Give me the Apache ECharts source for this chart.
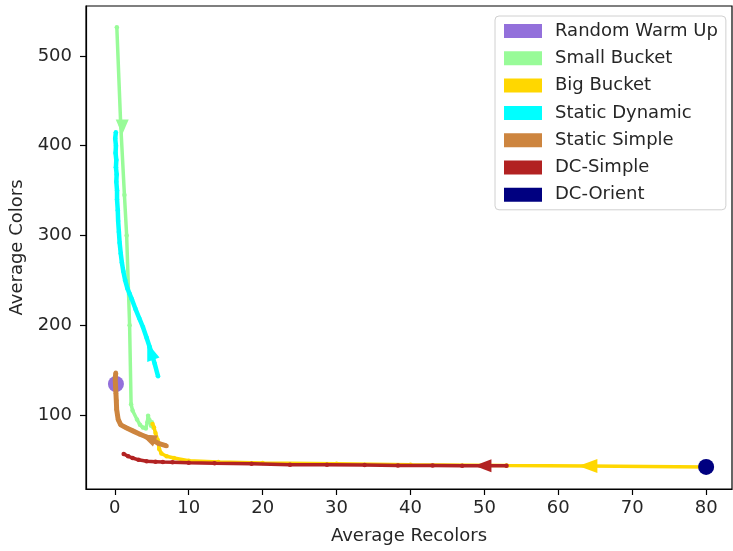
<!DOCTYPE html>
<html>
<head>
<meta charset="utf-8">
<script src="https://cdn.jsdelivr.net/npm/echarts@6/dist/echarts.min.js"></script>
<style>html,body{margin:0;padding:0;background:#fff;}#c{width:733px;height:551px;}</style>
</head>
<body>
<div id="c"></div>
<script>
// ---- data ----
const xTicks = [0, 10, 20, 30, 40, 50, 60, 70, 80];
const yTicks = [100, 200, 300, 400, 500];
const seriesNames = ['Random Warm Up', 'Small Bucket', 'Big Bucket', 'Static Dynamic', 'Static Simple', 'DC-Simple', 'DC-Orient'];

const randomWarmUp = [[0.15, 134.5]];
const smallBucket = [[0.27, 532], [0.8, 423], [1.3, 345], [1.6, 300], [2.0, 200], [2.2, 112], [2.4, 105], [3.0, 95], [3.4, 89], [3.8, 86], [4.2, 85], [4.4, 92], [4.5, 99], [4.7, 94], [4.9, 88], [5.0, 92], [5.2, 86]];
const bigBucket = [[80, 42.1], [64, 43], [53, 43.6], [40, 44.6], [30, 45.6], [20, 46.5], [14, 47.5], [10, 49], [8, 52], [7, 54], [6.3, 57], [6.0, 62], [5.8, 72], [5.5, 80], [5.3, 86], [5.1, 90]];
const staticDynamic = [[0.14, 415], [0.05, 408], [0.15, 400], [0.1, 392], [0.2, 384], [0.15, 376], [0.25, 368], [0.2, 360], [0.3, 350], [0.3, 340], [0.4, 328], [0.45, 316], [0.55, 304], [0.65, 292], [0.8, 280], [0.95, 270], [1.15, 260], [1.4, 250], [1.7, 241], [2.0, 235], [2.3, 229], [2.8, 218], [3.3, 208], [3.8, 198], [4.3, 186], [4.7, 176], [5.0, 168], [5.4, 157], [5.85, 143]];
const staticSimple = [[0.13, 147], [0.05, 140], [0.1, 132], [0.15, 124], [0.2, 116], [0.25, 106], [0.45, 95], [0.8, 89], [1.6, 85.5], [2.5, 82], [3.4, 78.5], [4.3, 75.5], [5.2, 71.5], [6.0, 68], [7.0, 65.5]];
const dcSimple = [[1.2, 56.6], [1.8, 54], [2.4, 52], [3.2, 50], [4.3, 48.5], [5.5, 48], [6.5, 47.5], [7.8, 47.3], [10, 46.8], [13.5, 46.1], [18.5, 45.6], [23.7, 44.6], [28.7, 44.4], [33.8, 44.2], [38.3, 43.6], [43, 43.6], [47, 43.5], [50, 43.5], [53, 43.5]];
const dcOrient = [[80, 42.1]];

// arrow heads: [x, y, direction in degrees]
const smallBucketArrow = [1.0, 421, 180];
const bigBucketArrow = [64, 43.2, 90];
const staticDynamicArrow = [4.8, 171, 20];
const staticSimpleArrow = [4.5, 74.5, 66];
const dcSimpleArrow = [49.8, 43.3, 90];

// ---- styles ----
const colors = ['#9370DB', '#98FB98', '#FFD700', '#00FFFF', '#CD853F', '#B22222', '#000080'];
const widths = [0, 3.5, 3.5, 4.5, 5, 3.5, 0];
const FONT = 'DejaVu Sans';
const FS = 18;
const TXT = '#262626';

function lineSeries(idx, data, arrow, arrowSize) {
  return {
    name: seriesNames[idx], type: 'line', data: data,
    symbol: 'circle', symbolSize: 4.5, showSymbol: true, showAllSymbol: true,
    lineStyle: { color: colors[idx], width: widths[idx] },
    itemStyle: { color: colors[idx] },
    emphasis: { disabled: true },
    z: 2 + idx,
    markPoint: {
      symbol: 'triangle',
      symbolSize: arrowSize,
      label: { show: false },
      itemStyle: { color: colors[idx] },
      data: [{ coord: [arrow[0], arrow[1]], symbolRotate: arrow[2] }],
      animation: false
    }
  };
}

const chart = echarts.init(document.getElementById('c'), null, { renderer: 'canvas' });
chart.setOption({
  animation: false,
  backgroundColor: '#ffffff',
  textStyle: { fontFamily: FONT },
  grid: { left: 86, right: 1, top: 6, bottom: 62, show: true, borderColor: '#000', borderWidth: 1.2, outerBoundsMode: 'none', containLabel: false },
  legend: {
    orient: 'vertical', left: 495, top: 16,
    padding: [5, 8, 5, 9],
    itemWidth: 38, itemHeight: 14, itemGap: 7.3,
    icon: 'rect',
    backgroundColor: 'rgba(255,255,255,0.8)',
    borderColor: '#d0d0d0', borderWidth: 1, borderRadius: 4,
    textStyle: { fontFamily: FONT, fontSize: FS, color: TXT, lineHeight: 20, padding: [0, 0, 0, 8] },
    data: seriesNames.map((n, i) => ({ name: n, itemStyle: { color: colors[i] } }))
  },
  xAxis: {
    type: 'value', min: -3.9, max: 83.5,
    name: 'Average Recolors', nameLocation: 'middle', nameGap: 38,
    nameTextStyle: { fontFamily: FONT, fontSize: FS, color: TXT },
    splitLine: { show: false },
    axisLine: { show: true, onZero: false, lineStyle: { color: '#000', width: 1.2 } },
    axisTick: { show: true, length: 6, customValues: xTicks, lineStyle: { color: '#000', width: 1.2 } },
    axisLabel: { customValues: xTicks, fontFamily: FONT, fontSize: FS, color: TXT, margin: 10 }
  },
  yAxis: {
    type: 'value', min: 17.5, max: 555.7,
    name: 'Average Colors', nameLocation: 'middle', nameGap: 54,
    nameTextStyle: { fontFamily: FONT, fontSize: FS, color: TXT },
    splitLine: { show: false },
    axisLine: { show: true, onZero: false, lineStyle: { color: '#000', width: 1.2 } },
    axisTick: { show: true, length: 6, customValues: yTicks, lineStyle: { color: '#000', width: 1.2 } },
    axisLabel: { customValues: yTicks, fontFamily: FONT, fontSize: FS, color: TXT, margin: 14 }
  },
  series: [
    { name: seriesNames[0], type: 'scatter', data: randomWarmUp, symbol: 'circle', symbolSize: 16,
      itemStyle: { color: colors[0], opacity: 1 }, emphasis: { disabled: true }, z: 1 },
    lineSeries(1, smallBucket, smallBucketArrow, [13, 15]),
    lineSeries(2, bigBucket, bigBucketArrow, [14, 19]),
    lineSeries(3, staticDynamic, staticDynamicArrow, [13, 18]),
    lineSeries(4, staticSimple, staticSimpleArrow, [12, 16]),
    lineSeries(5, dcSimple, dcSimpleArrow, [13, 17]),
    { name: seriesNames[6], type: 'scatter', data: dcOrient, symbol: 'circle', symbolSize: 16,
      itemStyle: { color: colors[6], opacity: 1 }, emphasis: { disabled: true }, z: 10 }
  ]
});
</script>
</body>
</html>
